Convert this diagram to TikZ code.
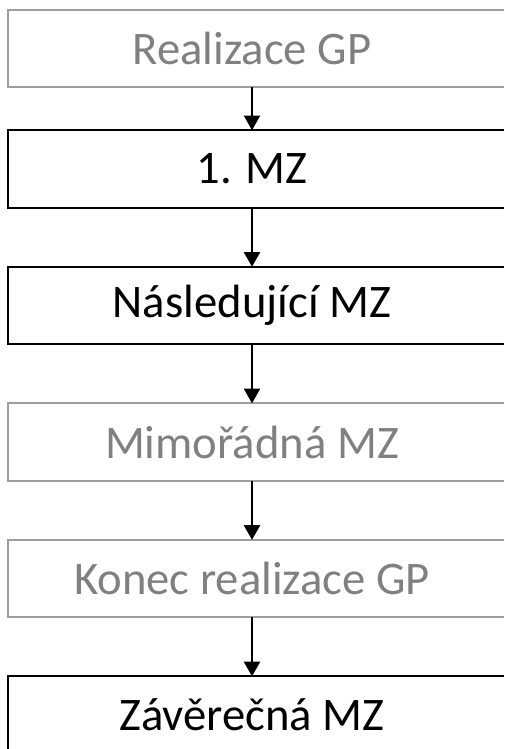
\documentclass[tikz,border=0pt]{standalone}
\usepackage{fontspec}
\setmainfont{Carlito}
\usetikzlibrary{arrows.meta,positioning}

\begin{document}
\begin{tikzpicture}[
  x=0.75pt, y=0.75pt,
  node distance=44.25pt,
  every node/.style={font=\fontsize{35}{42}\selectfont},
  box/.style={rectangle, minimum width=366pt, minimum height=57.75pt,
              inner sep=0pt},
  main/.style={box, text=black},
  aside/.style={box, text=black!50},
  mainline/.style={draw=black, line width=1.4pt},
  asideline/.style={draw=black!38, line width=1.4pt},
  arr/.style={-{Triangle[length=11pt,width=12pt]}, line width=1.5pt},
]
  \useasboundingbox (0,0) rectangle (504,-749);
  \coordinate (edge) at (504,0);
  \node[aside] (real) at (252,-48.5) {Realizace GP};
  \node[main, below=32.25pt of real] (mz1) {1. MZ};
  \node[main, below=of mz1]   (nasl)  {Následující MZ};
  \node[aside, below=of nasl] (mimo)  {Mimořádná MZ};
  \node[aside, below=of mimo] (konec) {Konec realizace GP};
  \node[main, below=of konec] (zav)   {Závěrečná MZ};

  % frames run on past the right edge
  \foreach \n/\s in {real/asideline, mz1/mainline, nasl/mainline,
                     mimo/asideline, konec/asideline, zav/mainline}
    \draw[\s] (\n.north west -| edge) -- (\n.north west)
              -- (\n.south west) -- (\n.south west -| edge);

  \draw[arr] (real.south)  -- (mz1.north);
  \draw[arr] (mz1.south)   -- (nasl.north);
  \draw[arr] (nasl.south)  -- (mimo.north);
  \draw[arr] (mimo.south)  -- (konec.north);
  \draw[arr] (konec.south) -- (zav.north);
\end{tikzpicture}
\end{document}
